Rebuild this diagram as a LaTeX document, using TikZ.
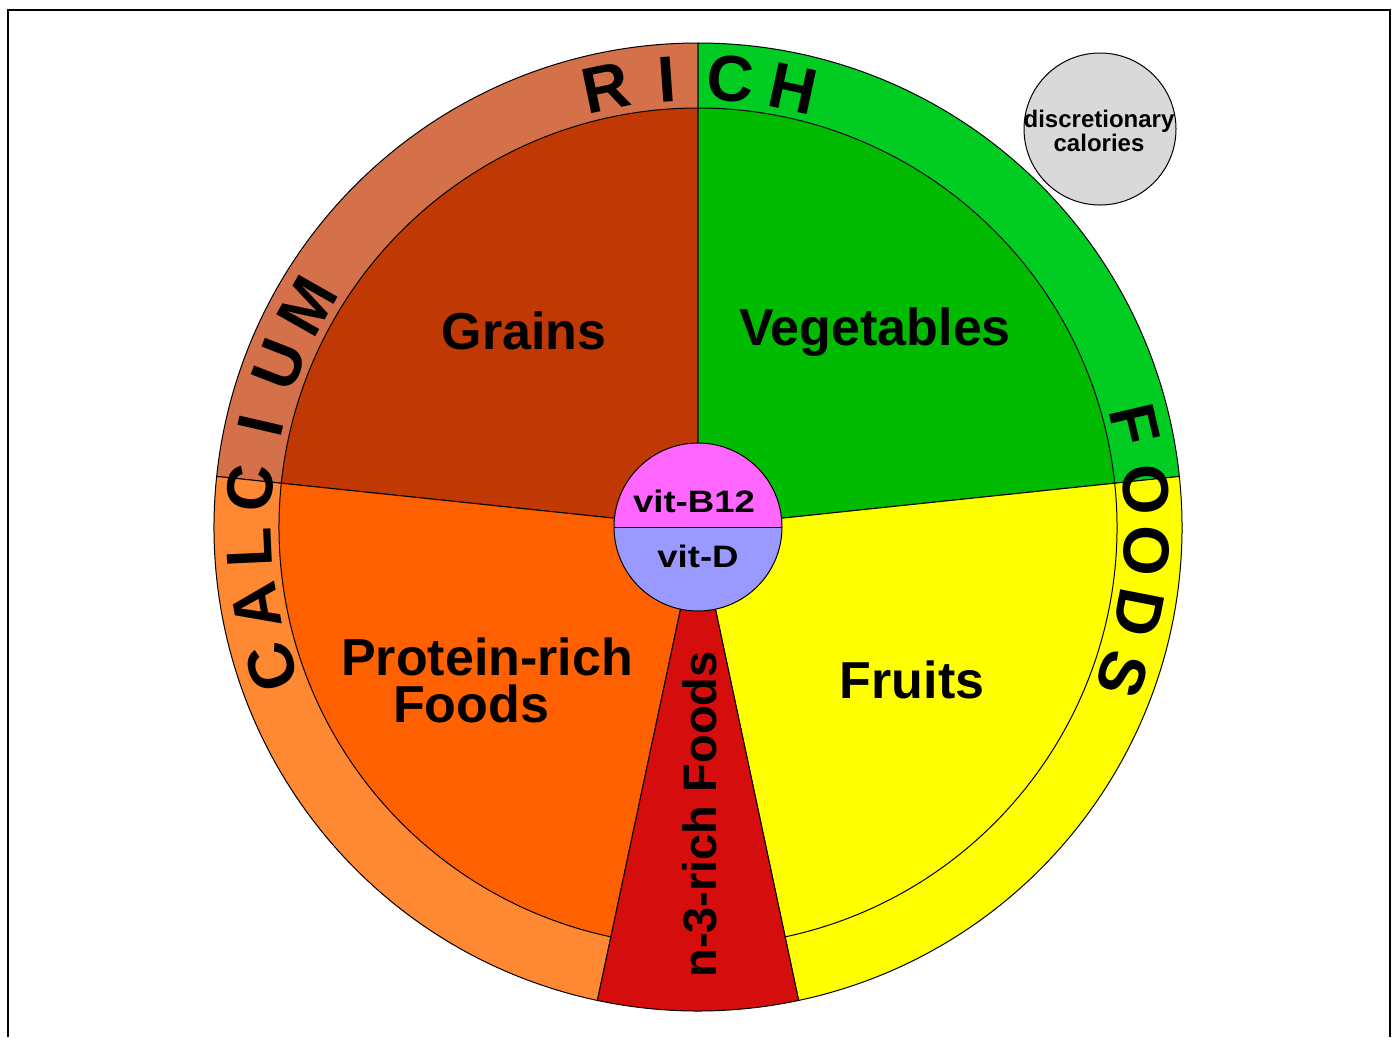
\documentclass[tikz,border=0pt]{standalone}
\usepackage{fontspec}
\setmainfont{Liberation Sans}
\definecolor{ringTL}{HTML}{D4704A}
\definecolor{grains}{HTML}{C03804}
\definecolor{ringTR}{HTML}{00CC22}
\definecolor{veg}{HTML}{00BB00}
\definecolor{fruit}{HTML}{FFFF00}
\definecolor{protein}{HTML}{FF6000}
\definecolor{ringBL}{HTML}{FF8833}
\definecolor{omega}{HTML}{D50D0D}
\definecolor{vitb}{HTML}{FF66FF}
\definecolor{vitd}{HTML}{9999FF}
\definecolor{disc}{HTML}{D9D9D9}
\newcommand\mysector[4]{\filldraw[sect, fill=#1] (O) -- ++(#2:#4) arc[start angle=#2, end angle=#3, radius=#4] -- cycle;}
\begin{document}
\begin{tikzpicture}[x=1pt,y=1pt,
  sect/.style={draw=black, line width=1pt},
  biglabel/.style={font=\bfseries\fontsize{52}{52}\selectfont, inner sep=0pt, anchor=base},
  vitlabel/.style={font=\bfseries\fontsize{31}{31}\selectfont, inner sep=0pt, anchor=base, xscale=1.18},
  disclabel/.style={font=\bfseries\fontsize{24}{24}\selectfont, inner sep=0pt, anchor=base},
  ringletter/.style={font=\bfseries\fontsize{65}{65}\selectfont, inner sep=0pt}]
\useasboundingbox (0,0) rectangle (1394,-1037);
\draw[line width=2pt] (7.5,-1037) -- (7.5,-10.3) -- (1389.5,-10.3) -- (1389.5,-1037);
\coordinate (O) at (698,-527);
% outer ring
\mysector{ringTL}{90}{174}{484}
\mysector{ringTR}{6}{90}{484}
\mysector{fruit}{-78}{6}{484}
\mysector{ringBL}{174}{258}{484}
% inner sectors
\mysector{grains}{90}{174}{419}
\mysector{veg}{6}{90}{419}
\mysector{fruit}{-78}{6}{419}
\mysector{protein}{174}{258}{419}
% n-3 wedge
\mysector{omega}{258}{282}{484}
% centre circle
\fill[vitb] ([xshift=84pt]O) arc[start angle=0, end angle=180, radius=84] -- cycle;
\fill[vitd] ([xshift=-84pt]O) arc[start angle=180, end angle=360, radius=84] -- cycle;
\draw[line width=1pt] (O) circle[radius=84];
\draw[line width=1pt] ([xshift=-84pt]O) -- ([xshift=84pt]O);
% discretionary calories
\node[circle, draw, line width=1pt, fill=disc, minimum size=152pt, inner sep=0pt] (discr) at (1100,-129) {};
\node[disclabel] (discA) at (1099,-127.3) {discretionary};
\node[disclabel] (discB) at (1099,-151.7) {calories};
% labels
\node[biglabel] (grainsL) at (524,-349) {Grains};
\node[biglabel] (vegL) at (875,-345) {Vegetables};
\node[biglabel] (protA) at (487,-675) {Protein-rich};
\node[biglabel] (protB) at (471,-722) {Foods};
\node[biglabel] (fruitL) at (912,-698) {Fruits};
\node[font=\bfseries\fontsize{47}{47}\selectfont, inner sep=0pt, anchor=base, rotate=90] (omegaL) at (716,-814.5) {n-3-rich Foods};
\node[vitlabel] (vitB) at (694,-512.7) {vit-B12};
\node[vitlabel] (vitD) at (698,-567.3) {vit-D};
% ring text
\foreach \ch/\ang [count=\i] in {C/198.2, A/190.2, L/182.6, C/175, I/167, U/158.8, M/150.5, R/101.8, I/94, C/85.8, H/77.8, F/13.2, O/4.8, O/-3, D/-11, S/-19.2}
  \node[ringletter, rotate=\ang-90] (ring\i) at ([shift={(\ang:449)}]O) {\ch};
\end{tikzpicture}
\end{document}
